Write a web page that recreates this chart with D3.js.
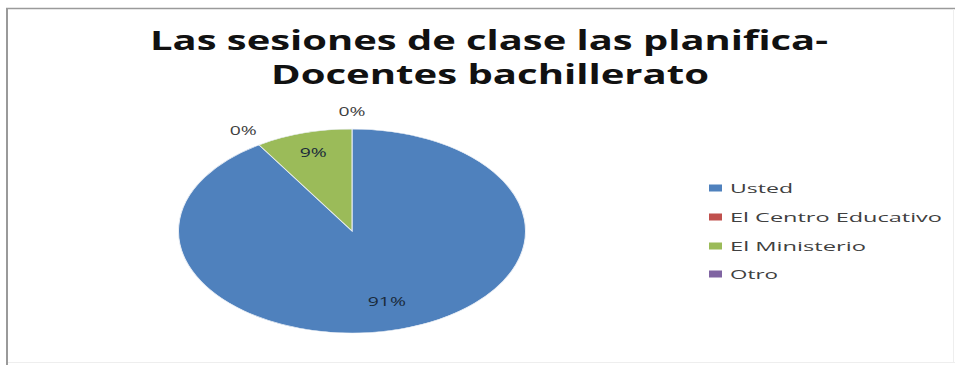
<!DOCTYPE html>
<html><head><meta charset="utf-8">
<script src="https://cdn.jsdelivr.net/npm/d3@7"></script>
<style>body{margin:0;background:#fff}svg{display:block}</style>
</head><body>
<svg id="c" width="955" height="365"></svg>
<script>
const categories = ["Usted", "El Centro Educativo", "El Ministerio", "Otro"];
const values = [91, 0, 9, 0];
const labels = ["91%", "0%", "9%", "0%"];
const colors = ["#4F81BD", "#C0504D", "#9BBB59", "#8064A2"];
const titleLines = ["Las sesiones de clase las planifica-", "Docentes bachillerato"];

const svg = d3.select("#c");
// frame
svg.append("line").attr("x1",7).attr("x2",7).attr("y1",8).attr("y2",365).attr("stroke","#9a9a9a").attr("stroke-width",2);
svg.append("line").attr("x1",6).attr("x2",955).attr("y1",8.5).attr("y2",8.5).attr("stroke","#9a9a9a").attr("stroke-width",1.5);
svg.append("line").attr("x1",8).attr("x2",955).attr("y1",362.5).attr("y2",362.5).attr("stroke","#eeeeee").attr("stroke-width",1);
svg.append("line").attr("x1",953.5).attr("x2",953.5).attr("y1",9).attr("y2",363).attr("stroke","#eeeeee").attr("stroke-width",1);

// title
const titleCfg = [{x:489, y:50, len:678},{x:490, y:84, len:438}];
titleLines.forEach((t,i)=>{
  svg.append("text").attr("x",titleCfg[i].x).attr("y",titleCfg[i].y)
    .attr("text-anchor","middle").attr("font-family","'Open Sans', sans-serif")
    .attr("font-weight","bold").attr("font-size",26).attr("fill","#111")
    .attr("textLength",titleCfg[i].len).attr("lengthAdjust","spacingAndGlyphs")
    .text(t);
});

// pie (elliptical)
const cx = 352, cy = 231, ry = 102, rx = 173.5, sx = rx/ry;
const pie = d3.pie().sort(null).value(d=>d)(values);
const arc = d3.arc().innerRadius(0).outerRadius(ry);
const pg = svg.append("g").attr("transform",`translate(${cx},${cy}) scale(${sx},1)`);
pg.selectAll("path").data(pie).enter().append("path")
  .attr("d",arc).attr("fill",(d,i)=>colors[i])
  .attr("stroke",(d)=> d.data>0 ? "#e9eef5" : "none").attr("stroke-width",0.6);

// labels
function lab(x,y,t,fill){
  svg.append("text").attr("transform",`translate(${x},${y}) scale(1.55,1)`)
    .attr("text-anchor","middle").attr("dominant-baseline","central")
    .attr("font-family","'Open Sans', sans-serif").attr("font-size",12.5)
    .attr("fill",fill).text(t);
}
pie.forEach((d,i)=>{
  const a = (d.startAngle+d.endAngle)/2;
  const inside = d.data>0;
  const r = inside ? (i===0?0.72:0.8) : 1.17;
  const x = cx + Math.sin(a)*r*rx;
  const y = cy - Math.cos(a)*r*ry;
  lab(x, y, labels[i], inside ? "#1a2a3a" : "#404040");
});

// legend
const legY = [188, 217, 246, 274];
const legLen = [63, 212, 136, 48];
categories.forEach((c,i)=>{
  svg.append("rect").attr("x",709).attr("y",legY[i]-3.5).attr("width",13).attr("height",7).attr("fill",colors[i]);
  svg.append("text").attr("x",730).attr("y",legY[i]).attr("dominant-baseline","central")
    .attr("font-family","'Open Sans', sans-serif").attr("font-size",13).attr("fill","#404040")
    .attr("textLength",legLen[i]).attr("lengthAdjust","spacingAndGlyphs").text(c);
});
</script>
</body></html>
